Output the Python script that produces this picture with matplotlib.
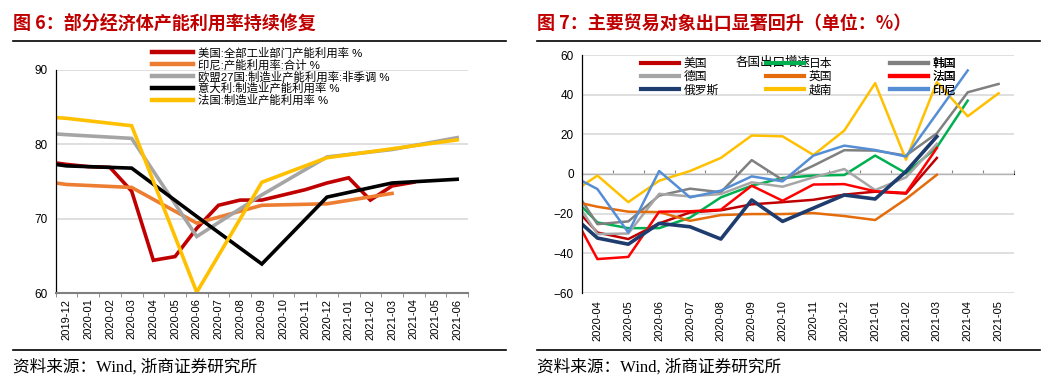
import numpy as np
import pandas as pd
import matplotlib
matplotlib.use("Agg")
import matplotlib.pyplot as plt
from matplotlib.lines import Line2D

plt.rcParams['font.family'] = ['Liberation Sans', 'Noto Sans CJK SC']
plt.rcParams['axes.unicode_minus'] = True

nan = np.nan

# ---- 图6 数据 ----
months_l = list(pd.period_range('2019-09', '2021-06', freq='M').strftime('%Y-%m'))
us_cap = [nan, nan, 77.7, 77.3, 77.0, 76.9, 73.7, 64.4, 64.9, 68.7, 71.8, 72.5,
          72.5, 73.2, 73.9, 74.8, 75.5, 72.5, 74.4, 74.9, nan, nan]
q_months = ['2019-09', '2019-12', '2020-03', '2020-06', '2020-09', '2020-12', '2021-03', '2021-06']
idn_cap = [75.8, 74.6, 74.2, 69.4, 71.8, 72.0, 73.4, nan]
eu_cap = [81.9, 81.3, 80.8, 67.6, 73.2, 78.3, 79.3, 80.9]
ita_cap = [78.3, 77.1, 76.8, 70.3, 63.9, 72.9, 74.8, 75.3]
fra_cap = [84.1, 83.5, 82.5, 60.1, 74.9, 78.2, 79.4, 80.6]
labels_l = ['美国:全部工业部门产能利用率 %', '印尼:产能利用率:合计 %',
            '欧盟27国:制造业产能利用率:非季调 %', '意大利:制造业产能利用率 %',
            '法国:制造业产能利用率 %']
colors_l = ['#C00000', '#ED7D31', '#A5A5A5', '#000000', '#FFC000']

# ---- 图7 数据 ----
months_r = list(pd.period_range('2020-03', '2021-05', freq='M').strftime('%Y-%m'))
exp_us = [-12.5, -29.5, -32.8, -24.9, -19.4, -18.3, -15.3, -14.2, -13.0, -10.4, -8.9, -9.9, 8.1, nan, nan]
exp_jp = [-8.6, -24.4, -27.3, -27.3, -22.0, -11.8, -5.9, -2.0, -0.8, -0.5, 9.3, 0.4, 13.5, 37.0, nan]
exp_kr = [-1.7, -25.3, -23.9, -10.9, -7.4, -9.2, 7.0, -3.0, 4.2, 12.0, 11.8, 9.3, 20.5, 41.2, 45.4]
exp_de = [-6.7, -30.3, -30.0, -10.0, -11.3, -10.1, -4.2, -6.4, -1.7, 2.5, -8.1, -1.7, 15.2, nan, nan]
exp_uk = [-13.1, -16.5, -19.0, -19.2, -23.6, -20.7, -20.2, -20.2, -19.7, -21.2, -23.2, -12.6, -0.4, nan, nan]
exp_fr = [-14.3, -42.9, -41.8, -19.0, -18.8, -18.0, -5.9, -13.5, -5.3, -5.1, -8.7, -9.5, 13.1, nan, nan]
exp_ru = [-18.3, -32.3, -35.4, -24.9, -26.6, -32.8, -13.1, -23.9, -17.2, -10.6, -12.6, 1.3, 18.9, nan, nan]
exp_vn = [-11.2, -0.8, -14.2, -3.4, 1.5, 8.1, 19.4, 19.0, 9.6, 21.9, 45.8, 7.2, 46.3, 29.1, 40.7]
exp_id = [0.6, -7.6, -29.5, 1.5, -11.8, -8.4, -1.2, -3.7, 9.3, 14.3, 12.1, 8.8, 30.5, 52.2, nan]
names_r = ['美国', '日本', '韩国', '德国', '英国', '法国', '俄罗斯', '越南', '印尼']
colors_r = ['#C00000', '#00B050', '#808080', '#A6A6A6', '#E46C0A', '#FF0000', '#1F3C6E', '#FFC000', '#558ED5']

W, H = 1054, 385
fig = plt.figure(figsize=(W / 100, H / 100), dpi=100)


def fx(px):
    return px / W


def fy(py):
    return 1 - py / H


# ---------- 左图 ----------
ax1 = fig.add_axes([fx(55.7), fy(293), fx(468) - fx(55.7), fy(70) - fy(293)])
i0 = months_l.index('2019-12')
x_m = np.arange(len(months_l))
x_q = np.array([months_l.index(m) for m in q_months])
series_l = [(x_m, us_cap), (x_q, idn_cap), (x_q, eu_cap), (x_q, ita_cap), (x_q, fra_cap)]
for (xs, ys), c, lab in zip(series_l, colors_l, labels_l):
    ys = np.array(ys, dtype=float)
    ok = ~np.isnan(ys)
    ax1.plot(xs[ok], ys[ok], color=c, lw=2.6, label=lab, solid_joinstyle='miter')
ax1.set_xlim(i0 - 0.5, len(months_l) - 0.5)
ax1.set_ylim(60, 90)
ax1.set_yticks([60, 70, 80, 90])
ax1.set_xticks(np.arange(i0, len(months_l)))
ax1.set_xticklabels(months_l[i0:], rotation=90, fontsize=8)
ax1.set_xticks(np.arange(i0, len(months_l) + 1) - 0.5, minor=True)
ax1.tick_params(axis='x', which='major', length=0, pad=4)
ax1.tick_params(axis='x', which='minor', length=3, color='#808080', direction='out')
ax1.tick_params(axis='y', length=0, labelsize=8.5, pad=6)
ax1.grid(axis='y', color='#D9D9D9', lw=1.2)
ax1.set_axisbelow(True)
for s in ['top', 'right']:
    ax1.spines[s].set_visible(False)
ax1.spines['left'].set_color('#000000')
ax1.spines['left'].set_linewidth(0.9)
ax1.spines['bottom'].set_color('#808080')
ax1.spines['bottom'].set_linewidth(1.5)
fig.legend(*ax1.get_legend_handles_labels(), loc='upper left',
           bbox_to_anchor=(fx(152), fy(47)), frameon=False, fontsize=8.2,
           handlelength=3.6, handletextpad=0.4, labelspacing=0.05,
           borderpad=0, borderaxespad=0)
for leg_line in fig.legends[-1].get_lines():
    leg_line.set_linewidth(3.2)

# ---------- 右图 ----------
ax2 = fig.add_axes([fx(582), fy(293), fx(1014) - fx(582), fy(55) - fy(293)])
x_r = np.arange(len(months_r))
series_r = [exp_us, exp_jp, exp_kr, exp_de, exp_uk, exp_fr, exp_ru, exp_vn, exp_id]
lines_r = []
for ys, c, n in zip(series_r, colors_r, names_r):
    ys = np.array(ys, dtype=float)
    ok = ~np.isnan(ys)
    lw = 2.6 if n == '俄罗斯' else 1.8
    ln, = ax2.plot(x_r[ok], ys[ok], color=c, lw=lw, label=n)
    lines_r.append(ln)
ax2.set_xlim(0.5, len(months_r) - 0.5)
ax2.set_ylim(-60, 60)
ax2.set_yticks([-60, -40, -20, 0, 20, 40, 60])
ax2.set_xticks(x_r[1:])
ax2.set_xticklabels(months_r[1:], rotation=90, fontsize=8)
ax2.tick_params(axis='x', length=0, pad=5)
ax2.tick_params(axis='y', length=0, labelsize=8.5, pad=6)
ax2.grid(axis='y', color='#D9D9D9', lw=1.2)
ax2.set_axisbelow(True)
for s in ['top', 'right', 'bottom']:
    ax2.spines[s].set_visible(False)
ax2.spines['left'].set_color('#000000')
ax2.spines['left'].set_linewidth(0.9)
zero_ax = ax2.secondary_xaxis(0.5)
bounds = np.arange(0.5, len(months_r), 1.0)
zero_ax.set_xticks(bounds, labels=[''] * len(bounds))
zero_ax.tick_params(length=3, color='#808080', direction='out')
zero_ax.spines['bottom'].set_color('#808080')
zero_ax.spines['bottom'].set_linewidth(1.3)

ax2.text(fx(773), fy(63), '各国出口增速', transform=fig.transFigure, ha='center',
         va='center', fontsize=9, zorder=1)
col_x = [641, 766, 890]
for k in range(3):
    hs = [Line2D([], [], color=lines_r[j].get_color(), lw=3) for j in range(k, 9, 3)]
    ls = [names_r[j] for j in range(k, 9, 3)]
    leg = ax2.legend(hs, ls, loc='upper left', bbox_to_anchor=(fx(col_x[k]), fy(58)),
                     bbox_transform=fig.transFigure, frameon=False, fontsize=8.5,
                     handlelength=3.2, handletextpad=0.4, labelspacing=0.1,
                     borderpad=0, borderaxespad=0)
    ax2.add_artist(leg)

# ---------- 标题、分隔线与来源 ----------
title_kw = dict(color='#C00000', fontsize=13, fontweight='bold', va='center',
                family=['Noto Sans CJK SC'])
fig.text(fx(13), fy(23), '图 6：部分经济体产能利用率持续修复', **title_kw)
fig.text(fx(537), fy(23), '图 7：主要贸易对象出口显著回升（单位：%）', **title_kw)
for x0, x1 in [(13, 506), (537, 1040)]:
    fig.add_artist(Line2D([fx(x0), fx(x1)], [fy(41), fy(41)], color='black', lw=1.2))
    fig.add_artist(Line2D([fx(x0), fx(x1)], [fy(350), fy(350)], color='black', lw=1.2))
src_kw = dict(fontsize=12, va='center', family=['Liberation Serif', 'Noto Sans CJK SC'])
fig.text(fx(13), fy(367), '资料来源：Wind, 浙商证券研究所', **src_kw)
fig.text(fx(537), fy(367), '资料来源：Wind, 浙商证券研究所', **src_kw)

fig.savefig('out.png', dpi=100)
